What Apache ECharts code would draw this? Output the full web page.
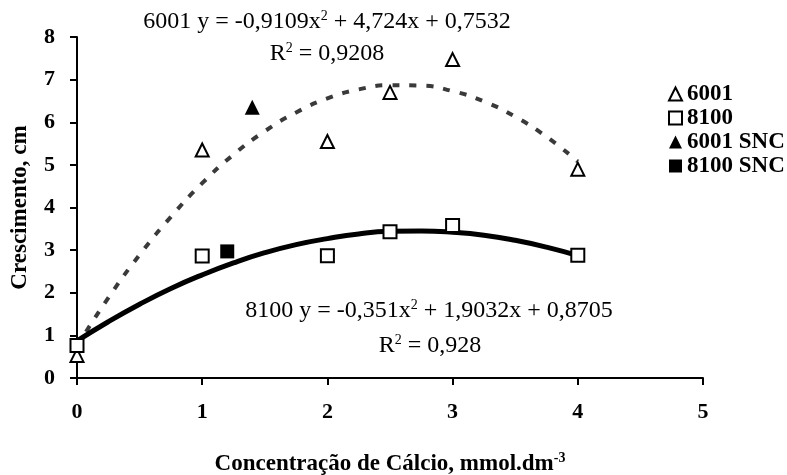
<!DOCTYPE html>
<html>
<head>
<meta charset="utf-8">
<script src="https://cdn.jsdelivr.net/npm/echarts@6/dist/echarts.min.js"></script>
<style>
  html, body { margin: 0; padding: 0; background: #fff; }
  #chart { width: 787px; height: 475px; }
</style>
</head>
<body>
<div id="chart"></div>
<script>
// pontos observados
const pts6001 = [[0, 0.53], [1, 5.35], [2, 5.55], [2.5, 6.7], [3, 7.47], [4, 4.9]]
const pts8100 = [[0, 0.76], [1, 2.86], [2, 2.87], [2.5, 3.43], [3, 3.58], [4, 2.88]]
const pts6001snc = [[1.4, 6.35]]
const pts8100snc = [[1.2, 2.97]]

// linhas de tendência
const trendX = [0, 0.25, 0.5, 0.75, 1, 1.25, 1.5, 1.75, 2, 2.25, 2.5, 2.75, 3, 3.25, 3.5, 3.75, 4]
const trend6001 = [0.75, 1.88, 2.89, 3.78, 4.57, 5.24, 5.79, 6.23, 6.56, 6.77, 6.87, 6.86, 6.73, 6.49, 6.13, 5.66, 5.08]
const trend8100 = [0.87, 1.32, 1.73, 2.10, 2.42, 2.70, 2.94, 3.13, 3.27, 3.38, 3.44, 3.45, 3.42, 3.35, 3.23, 3.07, 2.87]

const legendNames = ['6001', '8100', '6001 SNC', '8100 SNC']

const serif = '"Liberation Serif", "DejaVu Serif", serif'
const zip = (xs, ys) => xs.map((x, i) => [x, ys[i]])

const chart = echarts.init(document.getElementById('chart'))

const openStyle = { color: '#fff', borderColor: '#000', borderWidth: 2, opacity: 1 }
const fillStyle = { color: '#000', borderColor: '#000', borderWidth: 0, opacity: 1 }

const eqRich = {
  t: { fontFamily: serif, fontSize: 24, color: '#000' },
  s: { fontFamily: serif, fontSize: 14, color: '#000', padding: [0, 0, 12, 0] }
}

chart.setOption({
  animation: false,
  backgroundColor: '#fff',
  grid: { left: 77, right: 84, top: 37, bottom: 97, containLabel: false, outerBoundsMode: 'none' },
  xAxis: {
    type: 'value',
    min: 0,
    max: 5,
    interval: 1,
    splitLine: { show: false },
    axisLine: { lineStyle: { color: '#000', width: 2 } },
    axisTick: { show: true, length: 7, lineStyle: { color: '#000', width: 2 } },
    axisLabel: { margin: 23, color: '#000', fontFamily: serif, fontWeight: 'bold', fontSize: 22 },
    name: '{t|Concentração de Cálcio, mmol.dm}{s|-3}',
    nameLocation: 'middle',
    nameGap: 73,
    nameTextStyle: {
      rich: {
        t: { fontFamily: serif, fontWeight: 'bold', fontSize: 23, color: '#000' },
        s: { fontFamily: serif, fontWeight: 'bold', fontSize: 14, color: '#000', padding: [0, 0, 12, 0] }
      }
    }
  },
  yAxis: {
    type: 'value',
    min: 0,
    max: 8,
    interval: 1,
    splitLine: { show: false },
    axisLine: { show: true, lineStyle: { color: '#000', width: 2 } },
    axisTick: { show: true, length: 7, lineStyle: { color: '#000', width: 2 } },
    axisLabel: { margin: 22, color: '#000', fontFamily: serif, fontWeight: 'bold', fontSize: 22 },
    name: 'Crescimento, cm',
    nameLocation: 'middle',
    nameGap: 45,
    nameTextStyle: { fontFamily: serif, fontWeight: 'bold', fontSize: 23, color: '#000' }
  },
  legend: {
    data: legendNames,
    orient: 'vertical',
    left: 663,
    top: 77,
    itemWidth: 13,
    itemHeight: 13,
    itemGap: 0,
    textStyle: { fontFamily: serif, fontWeight: 'bold', fontSize: 23, lineHeight: 24, color: '#000' }
  },
  graphic: [
    {
      type: 'text', x: 327, y: 22,
      style: { text: '{t|6001 y = -0,9109x}{s|2}{t| + 4,724x + 0,7532}', rich: eqRich, align: 'center', verticalAlign: 'middle' }
    },
    {
      type: 'text', x: 327, y: 54,
      style: { text: '{t|R}{s|2}{t| = 0,9208}', rich: eqRich, align: 'center', verticalAlign: 'middle' }
    },
    {
      type: 'text', x: 429, y: 311,
      style: { text: '{t|8100 y = -0,351x}{s|2}{t| + 1,9032x + 0,8705}', rich: eqRich, align: 'center', verticalAlign: 'middle' }
    },
    {
      type: 'text', x: 430, y: 346,
      style: { text: '{t|R}{s|2}{t| = 0,928}', rich: eqRich, align: 'center', verticalAlign: 'middle' }
    }
  ],
  series: [
    {
      name: 'trend 6001',
      type: 'line',
      data: zip(trendX, trend6001),
      smooth: true,
      showSymbol: false,
      lineStyle: { color: '#3a3a3a', width: 4, type: [7, 10] },
      z: 1
    },
    {
      name: 'trend 8100',
      type: 'line',
      data: zip(trendX, trend8100),
      smooth: true,
      showSymbol: false,
      lineStyle: { color: '#000', width: 5 },
      z: 1
    },
    {
      name: '6001',
      type: 'scatter',
      data: pts6001,
      symbol: 'triangle',
      symbolSize: 13,
      itemStyle: openStyle,
      z: 3
    },
    {
      name: '8100',
      type: 'scatter',
      data: pts8100,
      symbol: 'rect',
      symbolSize: 13,
      itemStyle: openStyle,
      z: 3
    },
    {
      name: '6001 SNC',
      type: 'scatter',
      data: pts6001snc,
      symbol: 'triangle',
      symbolSize: 15,
      itemStyle: fillStyle,
      z: 3
    },
    {
      name: '8100 SNC',
      type: 'scatter',
      data: pts8100snc,
      symbol: 'rect',
      symbolSize: 14,
      itemStyle: fillStyle,
      z: 3
    }
  ]
})
</script>
</body>
</html>
